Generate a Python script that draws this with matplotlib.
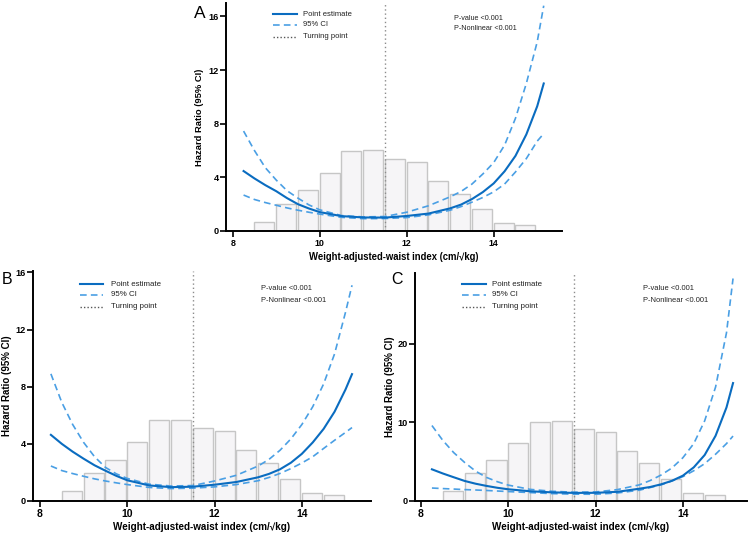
import matplotlib
matplotlib.use("Agg")
import matplotlib.pyplot as plt
from matplotlib.lines import Line2D

plt.rcParams['font.family'] = ['Liberation Sans', 'DejaVu Sans']

W, H = 753, 533

# ---------------- data ----------------
bin_left = [8.5, 9.0, 9.5, 10.0, 10.5, 11.0, 11.5, 12.0, 12.5, 13.0, 13.5, 14.0, 14.5]
hist_A = [0.70, 2.04, 3.08, 4.35, 5.96, 6.01, 5.39, 5.17, 3.75, 2.78, 1.64, 0.60, 0.47]
hist_B = [0.68, 1.93, 2.89, 4.12, 5.65, 5.67, 5.10, 4.89, 3.55, 2.66, 1.55, 0.56, 0.45]
hist_C = [1.22, 3.50, 5.23, 7.38, 10.1, 10.2, 9.16, 8.78, 6.37, 4.77, 2.78, 1.01, 0.80]

x_grid = [8.25, 8.5, 8.75, 9.0, 9.25, 9.5, 9.75, 10.0, 10.5, 11.0, 11.5, 12.0,
          12.5, 13.0, 13.25, 13.5, 13.75, 14.0, 14.25, 14.5, 14.75, 15.0, 15.15]

est_A = [4.47, 3.92, 3.42, 2.97, 2.45, 2.00, 1.68, 1.41, 1.11, 1.01, 1.00, 1.12,
         1.30, 1.69, 1.97, 2.38, 2.90, 3.55, 4.45, 5.60, 7.20, 9.30, 11.0]
upr_A = [7.45, 6.00, 4.72, 3.80, 3.00, 2.45, 1.95, 1.58, 1.15, 1.05, 1.08, 1.40,
         1.88, 2.55, 2.95, 3.50, 4.25, 5.10, 6.40, 8.40, 11.0, 14.1, 16.8]
lwr_A = [2.68, 2.35, 2.12, 1.92, 1.72, 1.55, 1.40, 1.26, 1.02, 0.92, 0.93, 1.00,
         1.20, 1.55, 1.82, 2.15, 2.50, 2.92, 3.50, 4.40, 5.40, 6.70, 7.26]

est_B = [4.63, 4.00, 3.45, 2.96, 2.50, 2.12, 1.76, 1.45, 1.09, 0.97, 1.00, 1.14,
         1.33, 1.66, 1.90, 2.22, 2.68, 3.30, 4.10, 5.05, 6.25, 7.80, 8.88]
upr_B = [8.90, 6.90, 5.35, 4.10, 3.10, 2.35, 1.90, 1.58, 1.18, 1.05, 1.08, 1.40,
         1.80, 2.45, 2.92, 3.55, 4.35, 5.35, 6.60, 8.20, 10.3, 13.2, 15.1]
lwr_B = [2.45, 2.13, 1.92, 1.73, 1.55, 1.40, 1.27, 1.15, 0.95, 0.87, 0.90, 0.99,
         1.15, 1.42, 1.65, 1.93, 2.27, 2.66, 3.10, 3.68, 4.25, 4.80, 5.14]

est_C = [4.03, 3.50, 3.02, 2.55, 2.20, 1.92, 1.68, 1.49, 1.24, 1.10, 1.03, 1.04,
         1.17, 1.56, 1.78, 2.12, 2.57, 3.22, 4.28, 5.85, 8.30, 11.9, 15.0]
upr_C = [9.60, 7.70, 6.15, 4.90, 3.80, 3.00, 2.45, 2.02, 1.48, 1.24, 1.12, 1.15,
         1.45, 2.05, 2.60, 3.30, 4.20, 5.50, 7.30, 10.2, 14.5, 21.4, 28.3]
lwr_C = [1.65, 1.58, 1.52, 1.45, 1.40, 1.34, 1.27, 1.20, 1.07, 0.94, 0.87, 0.86,
         1.02, 1.37, 1.71, 2.05, 2.55, 3.10, 3.85, 4.75, 5.95, 7.30, 8.26]

turning_point = 11.5
x_ticks = [8, 10, 12, 14]
y_ticks_A = [0, 4, 8, 12, 16]
y_ticks_B = [0, 4, 8, 12, 16]
y_ticks_C = [0, 10, 20]
legend_labels = ["Point estimate", "95% CI", "Turning point"]
p_texts = ["P-value <0.001", "P-Nonlinear <0.001"]
xlabel = "Weight-adjusted-waist index (cm/\u221akg)"
ylabel = "Hazard Ratio (95% CI)"

# ---------------- style ----------------
C_EST = '#0a6cc0'
C_CI = '#4a9fe4'
C_TP = '#8c8c8c'
BAR_FACE = '#f6f5f7'
BAR_EDGE = '#c6c6c6'

fig = plt.figure(figsize=(W / 100, H / 100), dpi=100)


def fx(X):
    return X / W


def fy(Y):
    return 1 - Y / H


def make_panel(box, xlim, ylim, hist, est, upr, lwr, yticks, scale, xtick_size,
               letter, letter_size, leg_line_x, leg_text_x, leg_rows_y,
               p_x, p_rows_y, ylab_x, xlab_y):
    L, R, T, B = box
    ax = fig.add_axes([fx(L), fy(B), (R - L) / W, (B - T) / H])
    ax.bar(bin_left, hist, width=0.46, align='edge', color=BAR_FACE,
           edgecolor=BAR_EDGE, linewidth=1.0, zorder=1)
    ax.axvline(turning_point, color=C_TP, linestyle=(0, (1, 2)), linewidth=1.0, zorder=2)
    ax.plot(x_grid, upr, color=C_CI, linestyle=(0, (4, 2.5)), linewidth=1.2, zorder=3)
    ax.plot(x_grid, lwr, color=C_CI, linestyle=(0, (4, 2.5)), linewidth=1.2, zorder=3)
    ax.plot(x_grid, est, color=C_EST, linewidth=1.5, zorder=4)
    ax.set_xlim(*xlim)
    ax.set_ylim(*ylim)
    ax.set_xticks(x_ticks)
    ax.set_yticks(yticks)
    for s in ['top', 'right']:
        ax.spines[s].set_visible(False)
    for s in ['left', 'bottom']:
        ax.spines[s].set_linewidth(1.4)
    ax.tick_params(direction='out', length=4, width=1.2)
    ax.tick_params(axis='x', labelsize=xtick_size, pad=2)
    ax.tick_params(axis='y', labelsize=6.6, pad=1)
    for lab in ax.get_xticklabels() + ax.get_yticklabels():
        lab.set_fontweight('bold')
    ax.patch.set_alpha(0)

    fig.text(fx(letter[0]), fy(letter[1]), letter[2], fontsize=letter_size,
             ha='center', va='center')
    styles = [dict(color=C_EST, linewidth=1.5),
              dict(color=C_CI, linewidth=1.2, linestyle=(0, (4, 2.5))),
              dict(color='#555555', linewidth=1.0, linestyle=(0, (1, 1.5)))]
    for lab, yy, st in zip(legend_labels, leg_rows_y, styles):
        fig.add_artist(Line2D([fx(leg_line_x[0]), fx(leg_line_x[1])], [fy(yy), fy(yy)],
                              transform=fig.transFigure, **st))
        fig.text(fx(leg_text_x), fy(yy), lab, fontsize=5.7 * scale, ha='left', va='center',
                 color='#222222')
    for t, yy in zip(p_texts, p_rows_y):
        fig.text(fx(p_x), fy(yy), t, fontsize=5.4 * scale, ha='left', va='center',
                 color='#222222')
    fig.text(fx(ylab_x), fy((T + B) / 2), ylabel, rotation=90, fontsize=7 * scale,
             fontweight='bold', ha='center', va='center')
    fig.text(fx((L + R) / 2), fy(xlab_y), xlabel, fontsize=7.1 * scale,
             fontweight='bold', ha='center', va='center')
    return ax


make_panel((226, 562, 3, 231), (7.846, 15.57), (0, 17), hist_A, est_A, upr_A, lwr_A,
           y_ticks_A, 0.97, 6.4, (200, 13.5, 'A'), 12.5, (273, 297), 303, (14, 24.5, 36.5),
           454, (18, 29), 199, 257)
make_panel((33, 371, 271, 501), (7.84, 15.585), (0, 16.1), hist_B, est_B, upr_B, lwr_B,
           y_ticks_B, 1.0, 7.5, (7.5, 280, 'B'), 11.5, (80, 103), 111, (284, 295, 306.5),
           261, (288.5, 300), 7, 527)
make_panel((415, 747, 273, 501), (7.862, 15.47), (0, 29), hist_C, est_C, upr_C, lwr_C,
           y_ticks_C, 1.0, 7.5, (397.5, 280, 'C'), 11.5, (462, 486), 492, (284, 295, 306.5),
           643, (288.5, 300), 390, 527)

fig.savefig('out.png', dpi=100)
